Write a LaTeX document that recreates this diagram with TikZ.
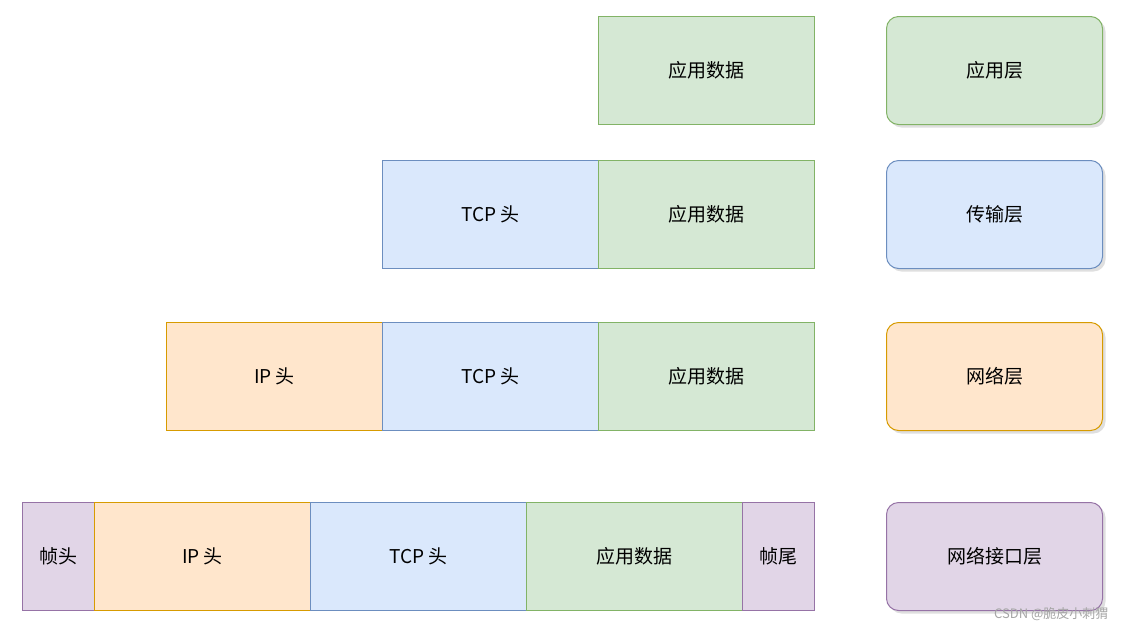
\documentclass[tikz,border=0pt]{standalone}
\usepackage{fontspec}
\setmainfont{Liberation Sans}
\newfontfamily\cjk{Noto Sans CJK SC}
\usetikzlibrary{shadows}
\definecolor{gF}{HTML}{D5E8D4}\definecolor{gD}{HTML}{82B366}
\definecolor{bF}{HTML}{DAE8FC}\definecolor{bD}{HTML}{6C8EBF}
\definecolor{oF}{HTML}{FFE6CC}\definecolor{oD}{HTML}{D79B00}
\definecolor{pF}{HTML}{E1D5E7}\definecolor{pD}{HTML}{9673A6}
\begin{document}
\begin{tikzpicture}[x=1pt,y=-1pt,
  cell/.style={draw=#1D,fill=#1F,line width=1pt,font=\cjk\fontsize{19}{19}\selectfont},
  layer/.style={cell=#1,rounded corners=12pt,drop shadow={shadow xshift=3pt,shadow yshift=-3pt,opacity=0.25}}]
\useasboundingbox (0,0) rectangle (1122,633);
\newcommand\bx[6]{\draw[cell=#5] (#1,#3) rectangle (#2,#4) node[midway,font=\cjk\fontsize{19}{19}\selectfont] (#6) {#5X};}
% row 1
\node[cell=g,minimum width=216pt,minimum height=108pt,anchor=north west] (a1) at (598,16) {应用数据};
% row 2
\node[cell=b,minimum width=216pt,minimum height=108pt,anchor=north west] (t2) at (382,160) {TCP 头};
\node[cell=g,minimum width=216pt,minimum height=108pt,anchor=north west] (a2) at (598,160) {应用数据};
% row 3
\node[cell=o,minimum width=216pt,minimum height=108pt,anchor=north west] (i3) at (166,322) {IP 头};
\node[cell=b,minimum width=216pt,minimum height=108pt,anchor=north west] (t3) at (382,322) {TCP 头};
\node[cell=g,minimum width=216pt,minimum height=108pt,anchor=north west] (a3) at (598,322) {应用数据};
% row 4
\node[cell=p,minimum width=72pt,minimum height=108pt,anchor=north west,inner sep=0pt] (fh) at (22,502) {帧头};
\node[cell=o,minimum width=216pt,minimum height=108pt,anchor=north west] (i4) at (94,502) {IP 头};
\node[cell=b,minimum width=216pt,minimum height=108pt,anchor=north west] (t4) at (310,502) {TCP 头};
\node[cell=g,minimum width=216pt,minimum height=108pt,anchor=north west] (a4) at (526,502) {应用数据};
\node[cell=p,minimum width=72pt,minimum height=108pt,anchor=north west,inner sep=0pt] (ft) at (742,502) {帧尾};
% layers
\node[layer=g,minimum width=216pt,minimum height=108pt,anchor=north west] (L1) at (886,16) {应用层};
\node[layer=b,minimum width=216pt,minimum height=108pt,anchor=north west] (L2) at (886,160) {传输层};
\node[layer=o,minimum width=216pt,minimum height=108pt,anchor=north west] (L3) at (886,322) {网络层};
\node[layer=p,minimum width=216pt,minimum height=108pt,anchor=north west] (L4) at (886,502) {网络接口层};
\node[text=gray!70,font=\cjk\fontsize{13}{13}\selectfont,anchor=east] (wm) at (1112,614) {CSDN @脆皮小刺猬};
\end{tikzpicture}
\end{document}
